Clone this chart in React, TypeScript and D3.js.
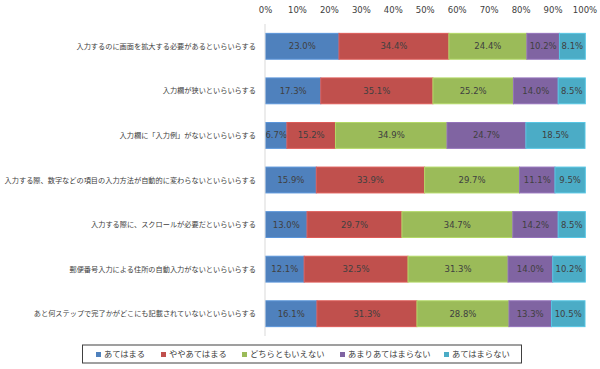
import React, { useEffect, useRef } from "react";
import * as d3 from "d3";

const categories = [
  "入力するのに画面を拡大する必要があるといらいらする",
  "入力欄が狭いといらいらする",
  "入力欄に「入力例」がないといらいらする",
  "入力する際、数字などの項目の入力方法が自動的に変わらないといらいらする",
  "入力する際に、スクロールが必要だといらいらする",
  "郵便番号入力による住所の自動入力がないといらいらする",
  "あと何ステップで完了かがどこにも記載されていないといらいらする",
];

const seriesNames = ["あてはまる", "ややあてはまる", "どちらともいえない", "あまりあてはまらない", "あてはまらない"];
const seriesColors = ["#4F81BD", "#C0504D", "#9BBB59", "#8064A2", "#4BACC6"];

const agree = [23.0, 17.3, 6.7, 15.9, 13.0, 12.1, 16.1];
const somewhatAgree = [34.4, 35.1, 15.2, 33.9, 29.7, 32.5, 31.3];
const neutral = [24.4, 25.2, 34.9, 29.7, 34.7, 31.3, 28.8];
const somewhatDisagree = [10.2, 14.0, 24.7, 11.1, 14.2, 14.0, 13.3];
const disagree = [8.1, 8.5, 18.5, 9.5, 8.5, 10.2, 10.5];

const ticks = [0, 10, 20, 30, 40, 50, 60, 70, 80, 90, 100];

const legendX = [96, 161, 242, 340, 444];

const W = 600;
const H = 369;

export default function App() {
  const svgRef = useRef<SVGSVGElement>(null);

  useEffect(() => {
    document.body.style.margin = "0";
    const svg = d3.select(svgRef.current);
    svg.selectAll("*").remove();

    const series = [agree, somewhatAgree, neutral, somewhatDisagree, disagree];
    const rows = categories.map((c, i) => {
      const r: any = { cat: c };
      seriesNames.forEach((s, k) => (r[s] = series[k][i]));
      return r;
    });
    const stacked = d3.stack().keys(seriesNames)(rows);

    const x = d3.scaleLinear().domain([0, 100]).range([265.5, 585]);
    const y = d3.scaleBand().domain(categories).range([24, 336]).paddingInner(0.42).paddingOuter(0.21);

    const numFont = "Verdana, 'DejaVu Sans', sans-serif";
    const jpFont = "'Noto Sans CJK JP', sans-serif";

    // top tick labels
    svg.append("g")
      .selectAll("text")
      .data(ticks)
      .join("text")
      .attr("x", (d) => x(d))
      .attr("y", 10)
      .attr("dy", "0.35em")
      .attr("text-anchor", "middle")
      .attr("font-family", numFont)
      .attr("font-size", 8.5)
      .attr("fill", "#404040")
      .text((d) => `${d}%`);

    // bars
    const layers = svg.append("g")
      .selectAll("g")
      .data(stacked)
      .join("g")
      .attr("fill", (_, i) => seriesColors[i])
      .attr("stroke", (_, i) => d3.color(seriesColors[i])!.brighter(0.4).formatHex());

    layers.selectAll("rect")
      .data((d) => d)
      .join("rect")
      .attr("x", (d) => x(d[0]))
      .attr("y", (d: any) => y(d.data.cat)!)
      .attr("width", (d) => x(d[1]) - x(d[0]))
      .attr("height", y.bandwidth())
      .attr("stroke-width", 1);

    layers.selectAll("text")
      .data((d) => d)
      .join("text")
      .attr("x", (d) => (x(d[0]) + x(d[1])) / 2)
      .attr("y", (d: any) => y(d.data.cat)! + y.bandwidth() / 2)
      .attr("dy", "0.35em")
      .attr("text-anchor", "middle")
      .attr("stroke", "none")
      .attr("fill", "#404040")
      .attr("font-family", numFont)
      .attr("font-size", 8.5)
      .text((d) => `${(d[1] - d[0]).toFixed(1)}%`);

    // axis line
    svg.append("line")
      .attr("x1", x(0) - 0.5)
      .attr("x2", x(0) - 0.5)
      .attr("y1", 24)
      .attr("y2", 336)
      .attr("stroke", "#d9d9d9")
      .attr("stroke-width", 1);

    // category labels
    svg.append("g")
      .selectAll("text")
      .data(categories)
      .join("text")
      .attr("x", 256)
      .attr("y", (d) => y(d)! + y.bandwidth() / 2)
      .attr("dy", "0.35em")
      .attr("text-anchor", "end")
      .attr("font-family", jpFont)
      .attr("font-size", 7.2)
      .attr("fill", "#404040")
      .text((d) => d);

    // legend
    svg.append("rect")
      .attr("x", 82.5)
      .attr("y", 345)
      .attr("width", 439)
      .attr("height", 18)
      .attr("fill", "white")
      .attr("stroke", "#404040")
      .attr("stroke-width", 1);

    const leg = svg.append("g")
      .selectAll("g")
      .data(seriesNames)
      .join("g")
      .attr("transform", (_, i) => `translate(${legendX[i]},354)`);
    leg.append("rect")
      .attr("x", 0)
      .attr("y", -2)
      .attr("width", 5)
      .attr("height", 5)
      .attr("fill", (_, i) => seriesColors[i]);
    leg.append("text")
      .attr("x", 8)
      .attr("y", 0)
      .attr("dy", "0.35em")
      .attr("font-family", jpFont)
      .attr("font-size", 8.3)
      .attr("fill", "#404040")
      .text((d) => d);
  }, []);

  return <svg ref={svgRef} width={W} height={H} style={{ display: "block", background: "white" }} />;
}
